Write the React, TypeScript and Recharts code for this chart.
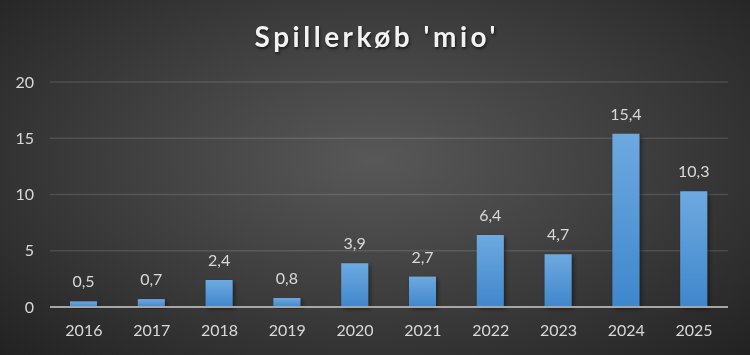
import { Bar, BarChart, CartesianGrid, LabelList, XAxis, YAxis } from 'recharts'

const YEARS = ['2016', '2017', '2018', '2019', '2020', '2021', '2022', '2023', '2024', '2025']
const PURCHASES = [0.5, 0.7, 2.4, 0.8, 3.9, 2.7, 6.4, 4.7, 15.4, 10.3]
const Y_TICKS = [0, 5, 10, 15, 20]

const TEXT_COLOR = '#d9d9d9'
const FONT = 'Lato, "Open Sans", sans-serif'

const data = YEARS.map((year, i) => ({ year, value: PURCHASES[i] }))

const formatComma = (v: unknown) => String(v).replace('.', ',')

export default function App() {
  return (
    <div
      style={{
        position: 'fixed',
        left: 0,
        top: 0,
        width: 750,
        height: 355,
        background: 'radial-gradient(ellipse at 50% 45%, #585858 0%, #3b3b3b 55%, #222222 100%)',
        fontFamily: FONT
      }}
    >
      <div
        style={{
          position: 'absolute',
          top: 19,
          width: 750,
          paddingLeft: 3.5,
          boxSizing: 'border-box',
          textAlign: 'center',
          color: '#f2f2f2',
          fontSize: 28,
          fontWeight: 700,
          letterSpacing: 3.5,
          textShadow: '1px 2px 3px rgba(0,0,0,0.6)'
        }}
      >
        Spillerkøb 'mio'
      </div>
      <BarChart
        width={750}
        height={355}
        data={data}
        margin={{ top: 82, right: 22, bottom: 18, left: 0 }}
        style={{ position: 'absolute', left: 0, top: 0 }}
      >
        <defs>
          <linearGradient id="barFill" x1="0" y1="0" x2="0" y2="1">
            <stop offset="0%" stopColor="#6ea9e0" />
            <stop offset="100%" stopColor="#3f87cb" />
          </linearGradient>
          <filter id="barShadow" x="-30%" y="-10%" width="160%" height="130%">
            <feDropShadow dx="2" dy="2" stdDeviation="2" floodColor="#000" floodOpacity="0.45" />
          </filter>
        </defs>
        <CartesianGrid vertical={false} stroke="rgba(255,255,255,0.12)" strokeWidth={1.5} />
        <XAxis
          dataKey="year"
          tickLine={false}
          axisLine={{ stroke: '#a6a6a6', strokeWidth: 2 }}
          tick={{ fill: TEXT_COLOR, fontSize: 16, fontFamily: FONT }}
          tickMargin={12}
          height={30}
          interval={0}
        />
        <YAxis
          domain={[0, 20]}
          ticks={Y_TICKS}
          tickLine={false}
          axisLine={false}
          tick={{ fill: TEXT_COLOR, fontSize: 16, fontFamily: FONT }}
          tickMargin={10}
          width={50}
          interval={0}
        />
        <Bar
          dataKey="value"
          fill="url(#barFill)"
          barSize={27}
          filter="url(#barShadow)"
          isAnimationActive={false}
        >
          <LabelList
            dataKey="value"
            position="top"
            offset={14}
            formatter={formatComma}
            style={{ fill: TEXT_COLOR, fontSize: 16, fontFamily: FONT }}
          />
        </Bar>
      </BarChart>
    </div>
  )
}
